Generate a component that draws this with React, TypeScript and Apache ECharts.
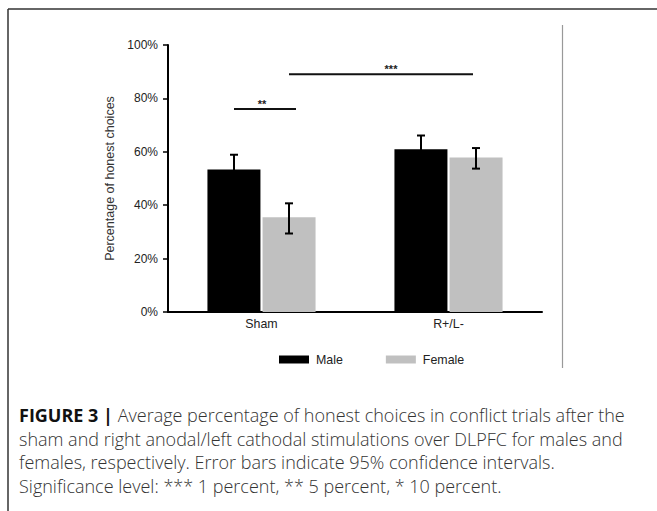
import React, { useEffect, useRef } from "react";
import * as echarts from "echarts";

const categories = ["Sham", "R+/L-"];
const seriesNames = ["Male", "Female"];
const maleMean = [53.4, 61.0];
const maleLow = [47.9, 55.9];
const maleHigh = [58.9, 66.1];
const femaleMean = [35.5, 57.9];
const femaleLow = [29.4, 53.7];
const femaleHigh = [40.7, 61.4];
const yMin = 0;
const yMax = 100;
const yInterval = 20;
// significance brackets: [fromCategory, fromSeries(0 male/1 female), toCategory, toSeries, level]
const sigFrom = [[0, 0], [0, 1]];
const sigTo = [[0, 1], [1, 1]];
const sigLevels = [76, 89];
const sigLabels = ["**", "***"];

const captionLines = [
  "Average percentage of honest choices in conflict trials after the",
  "sham and right anodal/left cathodal stimulations over DLPFC for males and",
  "females, respectively. Error bars indicate 95% confidence intervals.",
  "Significance level: *** 1 percent, ** 5 percent, * 10 percent.",
];
const captionTitle = "FIGURE 3 |";

const BAR_W = 53;
const BAR_OFF = 27.5;
const FONT = "'Liberation Sans', Arial, sans-serif";
const CAP_FONT = "'Open Sans', Roboto, sans-serif";

export default function App() {
  const ref = useRef<HTMLDivElement>(null);
  useEffect(() => {
    if (!ref.current) return;
    const chart = echarts.init(ref.current, null, { renderer: "svg" });

    const errData = (low: number[], high: number[]) =>
      categories.map((_, i) => [i, low[i], high[i]]);

    const errRender = (off: number) => (params: any, api: any) => {
      const i = api.value(0);
      const top = api.coord([i, api.value(2)]);
      const bot = api.coord([i, api.value(1)]);
      const x = top[0] + off;
      const cap = 4;
      const st = { stroke: "#000", lineWidth: 2 };
      return {
        type: "group",
        children: [
          { type: "line", shape: { x1: x, y1: top[1], x2: x, y2: bot[1] }, style: st },
          { type: "line", shape: { x1: x - cap, y1: top[1], x2: x + cap, y2: top[1] }, style: st },
          { type: "line", shape: { x1: x - cap, y1: bot[1], x2: x + cap, y2: bot[1] }, style: st },
        ],
      };
    };

    const sigData = sigLevels.map((lv, k) => [sigFrom[k][0], sigFrom[k][1], sigTo[k][0], sigTo[k][1], lv, k]);
    const sigRender = (params: any, api: any) => {
      const k = api.value(5);
      const p1 = api.coord([api.value(0), api.value(4)]);
      const p2 = api.coord([api.value(2), api.value(4)]);
      const x1 = p1[0] + (api.value(1) === 0 ? -BAR_OFF : BAR_OFF);
      const x2 = p2[0] + (api.value(3) === 0 ? -BAR_OFF : BAR_OFF) + (k === 0 ? 7 : -3);
      const y = p1[1];
      return {
        type: "group",
        children: [
          { type: "line", shape: { x1, y1: y, x2, y2: y }, style: { stroke: "#111", lineWidth: 2 } },
          {
            type: "text",
            x: (x1 + x2) / 2 + (k === 0 ? -3 : 10),
            y: y,
            style: {
              text: sigLabels[k],
              font: `bold 11px ${FONT}`,
              fill: "#222",
              align: "center",
              verticalAlign: "bottom",
            },
          },
        ],
      };
    };

    const option: any = {
      animation: false,
      backgroundColor: "#fff",
      grid: { left: 168, right: 115, top: 45, bottom: 199 },
      legend: {
        left: 274,
        top: 348.5,
        itemWidth: 30,
        itemHeight: 8,
        itemGap: 43,
        icon: "rect",
        data: seriesNames,
        textStyle: { fontFamily: FONT, fontSize: 12.4, color: "#222", padding: [0, 0, 0, 2] },
      },
      xAxis: {
        type: "category",
        data: categories,
        axisLine: { lineStyle: { color: "#000", width: 2 } },
        axisTick: { show: false },
        axisLabel: { fontFamily: FONT, fontSize: 12.4, color: "#222", margin: 6 },
      },
      yAxis: {
        type: "value",
        min: yMin,
        max: yMax,
        interval: yInterval,
        name: "Percentage of honest choices",
        nameLocation: "middle",
        nameRotate: 90,
        nameGap: 49.5,
        nameTextStyle: { fontFamily: FONT, fontSize: 12.5, color: "#333" },
        splitLine: { show: false },
        axisLine: { show: true, lineStyle: { color: "#000", width: 2 } },
        axisTick: { show: true, length: 5, lineStyle: { color: "#000", width: 1.5 } },
        axisLabel: { formatter: "{value}%", fontFamily: FONT, fontSize: 12, color: "#222", margin: 10 },
      },
      series: [
        {
          name: "Male",
          type: "bar",
          data: maleMean,
          barWidth: BAR_W,
          barGap: "4%",
          itemStyle: { color: "#000" },
        },
        {
          name: "Female",
          type: "bar",
          data: femaleMean,
          barWidth: BAR_W,
          barGap: "4%",
          itemStyle: { color: "#c0c0c0" },
        },
        {
          type: "custom",
          renderItem: errRender(-BAR_OFF),
          data: errData(maleLow, maleHigh),
          z: 10,
          silent: true,
        },
        {
          type: "custom",
          renderItem: errRender(BAR_OFF),
          data: errData(femaleLow, femaleHigh),
          z: 10,
          silent: true,
        },
        {
          type: "custom",
          renderItem: sigRender,
          data: sigData,
          z: 10,
          silent: true,
        },
      ],
      graphic: [
        { type: "line", shape: { x1: 8, y1: 9, x2: 657, y2: 9 }, style: { stroke: "#333", lineWidth: 1.5 } },
        { type: "line", shape: { x1: 8, y1: 9, x2: 8, y2: 511 }, style: { stroke: "#333", lineWidth: 1.5 } },
        { type: "line", shape: { x1: 562.5, y1: 25, x2: 562.5, y2: 368 }, style: { stroke: "#999", lineWidth: 1.2 } },
        {
          type: "text",
          left: 19,
          top: 406,
          style: {
            text: `{b|${captionTitle}} ${captionLines[0]}`,
            font: `300 18px ${CAP_FONT}`,
            fill: "#333",
            rich: { b: { fontWeight: "bold", fontSize: 18, fontFamily: CAP_FONT, fill: "#111" } },
          },
        },
        ...captionLines.slice(1).map((t, i) => ({
          type: "text",
          left: 19,
          top: 429.5 + i * 23.6,
          style: { text: t, font: `300 18px ${CAP_FONT}`, fill: "#333" },
        })),
      ],
    };
    chart.setOption(option);
    return () => chart.dispose();
  }, []);
  return <div ref={ref} style={{ position: "fixed", left: 0, top: 0, width: 657, height: 511 }} />;
}
